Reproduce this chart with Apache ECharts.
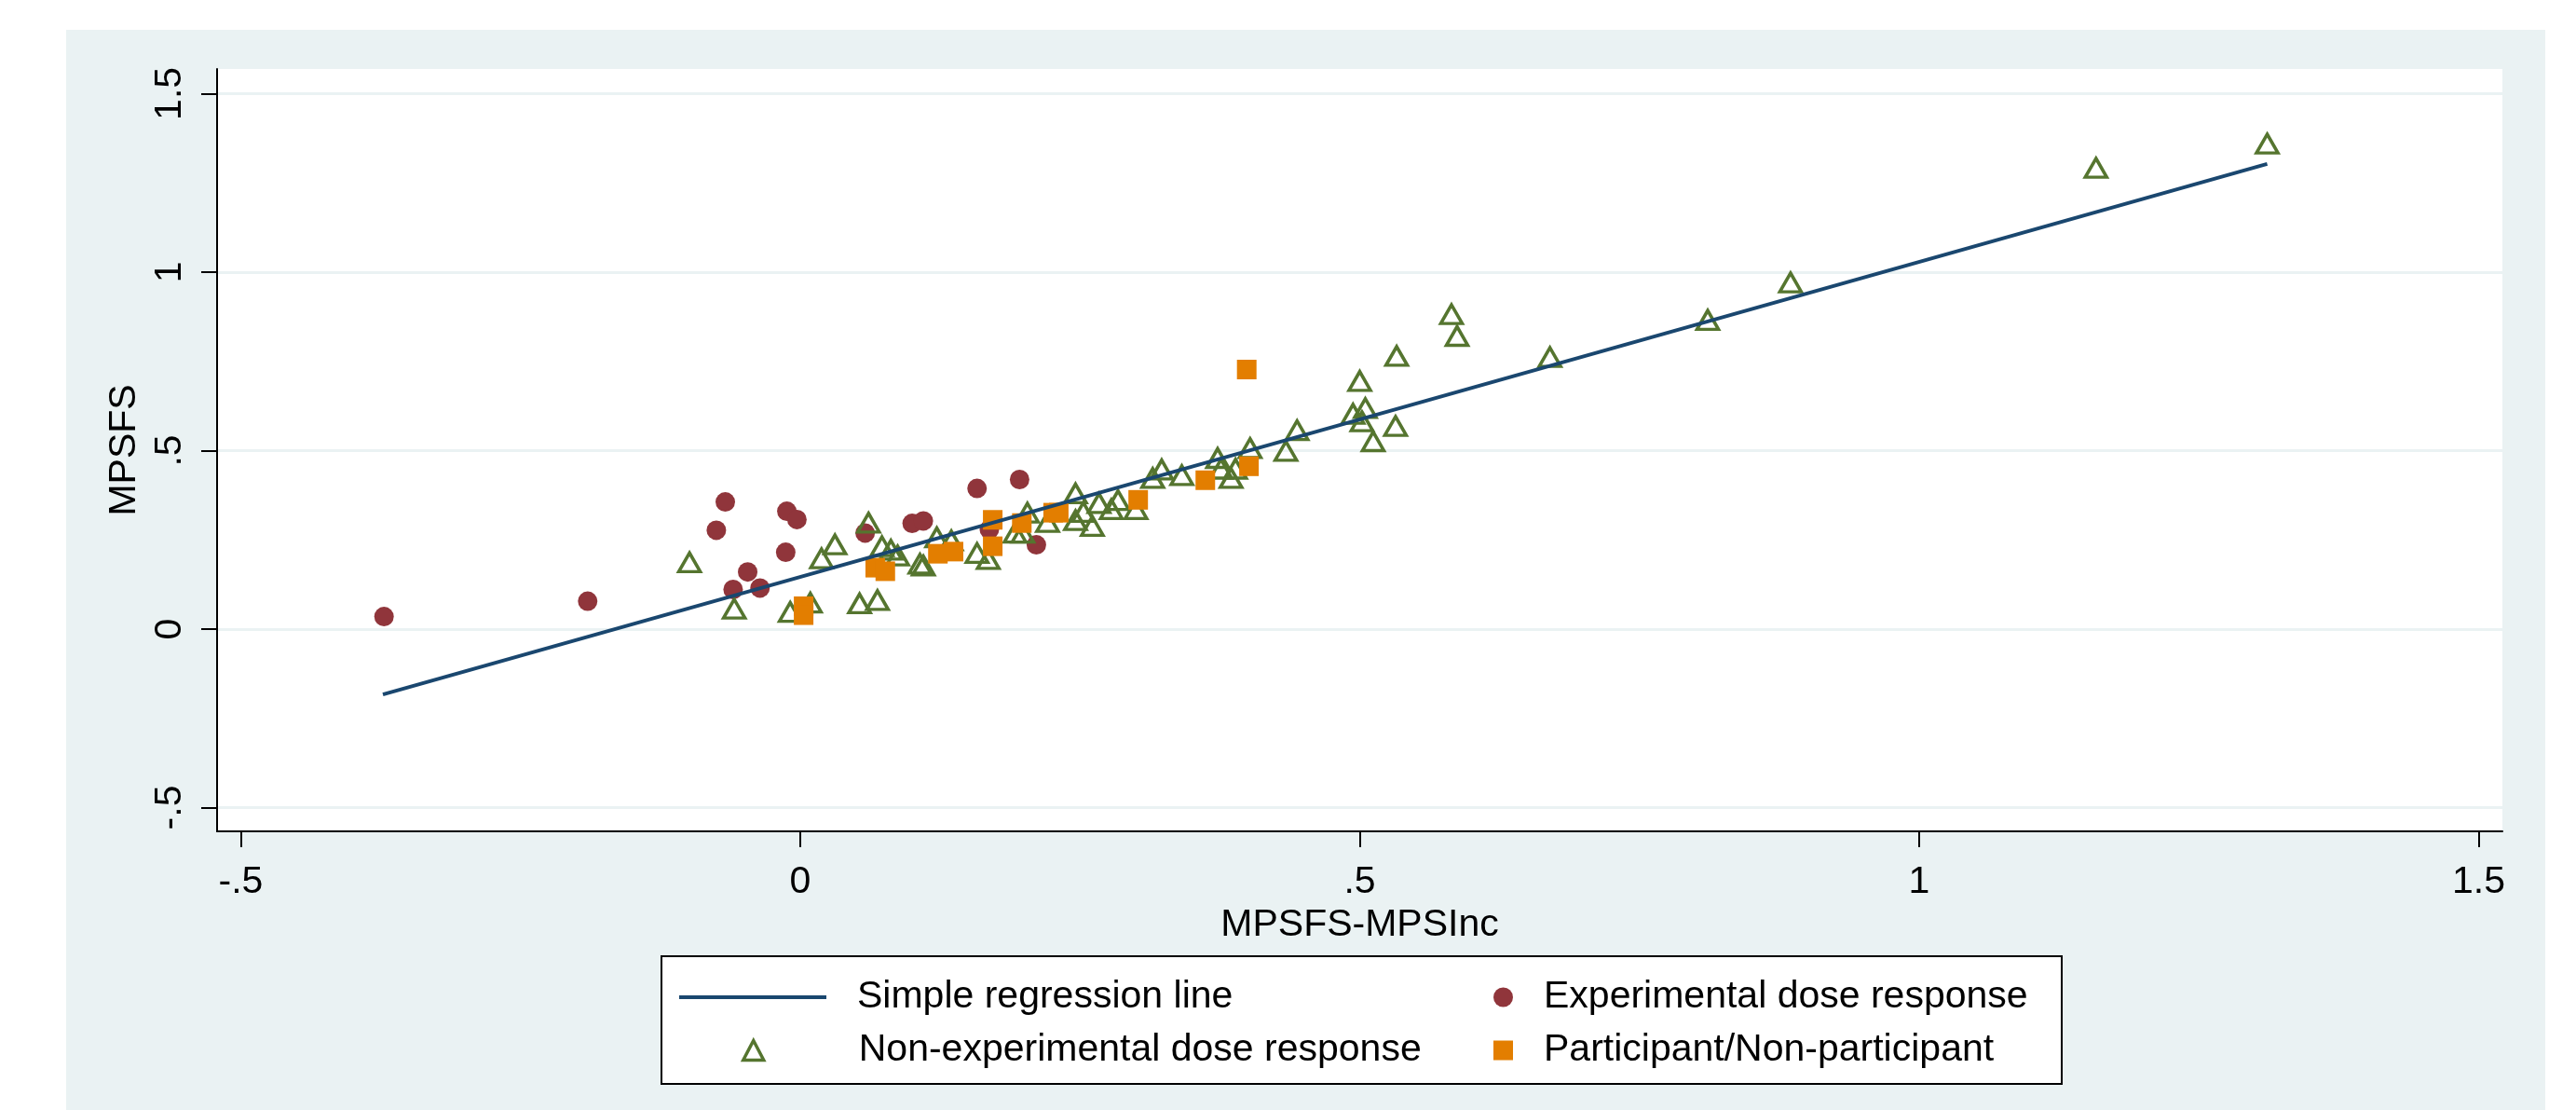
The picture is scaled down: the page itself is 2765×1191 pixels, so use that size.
<!DOCTYPE html>
<html>
<head>
<meta charset="utf-8">
<title>MPSFS vs MPSFS-MPSInc</title>
<script src="https://cdn.jsdelivr.net/npm/echarts@6.0.0/dist/echarts.min.js"></script>
<style>
  html, body { margin: 0; padding: 0; background: #ffffff; }
  #main { width: 2765px; height: 1191px; }
</style>
</head>
<body>
<div id="main"></div>
<script>
// axis ticks and their Stata-style labels
var xTicks = [-0.5, 0, 0.5, 1, 1.5];
var xTickLabels = ['-.5', '0', '.5', '1', '1.5'];
var yTicks = [-0.5, 0, 0.5, 1, 1.5];
var yTickLabels = ['-.5', '0', '.5', '1', '1.5'];

// simple regression line (two end points)
var regressionLine = [[-0.373, -0.183], [1.311, 1.303]];

// experimental dose response (red circles)
var experimental = [
    [-0.372, 0.035], [-0.190, 0.078], [-0.067, 0.356], [-0.075, 0.277],
    [-0.012, 0.330], [-0.003, 0.307], [-0.013, 0.215], [-0.047, 0.160],
    [-0.060, 0.111], [-0.036, 0.115], [0.058, 0.269], [0.100, 0.296],
    [0.110, 0.303], [0.158, 0.394], [0.196, 0.419], [0.211, 0.236],
    [0.169, 0.279]
];

// non-experimental dose response (green triangles)
var nonExperimental = [
    [-0.099, 0.187], [-0.059, 0.057], [-0.009, 0.048], [0.009, 0.074],
    [0.019, 0.198], [0.031, 0.237], [0.061, 0.298], [0.053, 0.072],
    [0.069, 0.081], [0.073, 0.232], [0.081, 0.222], [0.087, 0.206],
    [0.107, 0.183], [0.110, 0.178], [0.122, 0.257], [0.135, 0.248],
    [0.158, 0.213], [0.168, 0.196], [0.203, 0.326], [0.192, 0.270],
    [0.199, 0.270], [0.221, 0.300],
    [0.246, 0.380], [0.246, 0.305], [0.253, 0.328], [0.261, 0.289],
    [0.267, 0.353], [0.278, 0.336], [0.284, 0.361], [0.300, 0.336],
    [0.315, 0.423], [0.323, 0.447], [0.341, 0.431], [0.373, 0.479],
    [0.376, 0.449], [0.385, 0.423], [0.389, 0.449], [0.402, 0.507],
    [0.434, 0.499], [0.444, 0.557], [0.500, 0.695], [0.494, 0.603],
    [0.505, 0.619], [0.502, 0.582], [0.512, 0.526], [0.532, 0.569],
    [0.533, 0.765],
    [0.582, 0.882], [0.587, 0.821], [0.670, 0.762], [0.811, 0.866],
    [0.885, 0.971], [1.158, 1.292], [1.311, 1.360]
];

// participant / non-participant (orange squares)
var participant = [
    [0.003, 0.064], [0.003, 0.039], [0.067, 0.172], [0.076, 0.162],
    [0.123, 0.211], [0.137, 0.217], [0.172, 0.306], [0.172, 0.232],
    [0.198, 0.297], [0.226, 0.326], [0.231, 0.326], [0.302, 0.362],
    [0.362, 0.417], [0.401, 0.456], [0.399, 0.727]
];

function tickLabel(ticks, labels) {
    return function (v) {
        var best = 0;
        for (var i = 1; i < ticks.length; i++) {
            if (Math.abs(ticks[i] - v) < Math.abs(ticks[best] - v)) best = i;
        }
        return labels[best];
    };
}

var font = '"Liberation Sans", Arial, sans-serif';
var bg = '#EAF2F3';
var legendText = { fontSize: 41, fontFamily: font, color: '#000', lineHeight: 44 };

var myChart = echarts.init(document.getElementById('main'), null, {renderer: 'canvas'});

var option = {
    animation: false,
    backgroundColor: '#ffffff',
    textStyle: { fontFamily: font },
    graphic: [
        {   // light outer background
            type: 'rect', z: -10,
            shape: { x: 71, y: 32, width: 2661, height: 1159 },
            style: { fill: bg }
        },
        {   // legend box
            type: 'rect', z: 1,
            shape: { x: 710, y: 1026, width: 1503, height: 137 },
            style: { fill: '#ffffff', stroke: '#000000', lineWidth: 2 }
        }
    ],
    grid: {
        left: 233, top: 74, width: 2453, height: 818,
        show: true, backgroundColor: '#ffffff', borderWidth: 0
    },
    legend: [
        {   // regression line key
            data: [{ name: 'Simple regression line', icon: 'rect' }],
            left: 724, top: 1043,
            itemWidth: 158, itemHeight: 4,
            textStyle: Object.assign({ padding: [0, 0, 0, 28] }, legendText)
        },
        {   // triangle key, symbol centred under the line key
            data: [{
                name: 'Non-experimental dose response', icon: 'triangle',
                itemStyle: { color: 'rgba(255,255,255,0)', borderColor: '#55752F', borderWidth: 3.5 }
            }],
            left: 791, top: 1100,
            itemWidth: 22, itemHeight: 21,
            textStyle: Object.assign({ padding: [0, 0, 0, 97] }, legendText)
        },
        {   // right column
            data: [
                { name: 'Experimental dose response', icon: 'circle' },
                { name: 'Participant/Non-participant', icon: 'rect' }
            ],
            orient: 'vertical',
            left: 1598, top: 1043,
            itemWidth: 21, itemHeight: 21, itemGap: 13,
            textStyle: Object.assign({ padding: [0, 0, 0, 28] }, legendText)
        }
    ],
    xAxis: {
        type: 'value',
        min: -0.5212, max: 1.5212,
        name: 'MPSFS-MPSInc',
        nameLocation: 'middle',
        nameGap: 72,
        nameTextStyle: { fontSize: 41, fontFamily: font, color: '#000' },
        axisLine: { show: true, onZero: false, lineStyle: { color: '#000', width: 2 } },
        axisTick: { show: true, customValues: xTicks, length: 17, lineStyle: { color: '#000', width: 2 } },
        axisLabel: {
            customValues: xTicks, formatter: tickLabel(xTicks, xTickLabels),
            fontSize: 41, fontFamily: font, color: '#000', margin: 34
        },
        splitLine: { show: false }
    },
    yAxis: {
        type: 'value',
        min: -0.5666, max: 1.569,
        name: 'MPSFS',
        nameLocation: 'middle',
        nameGap: 76,
        nameRotate: 90,
        nameTextStyle: { fontSize: 41, fontFamily: font, color: '#000' },
        axisLine: { show: true, onZero: false, lineStyle: { color: '#000', width: 2 } },
        axisTick: { show: true, customValues: yTicks, length: 17, lineStyle: { color: '#000', width: 2 } },
        axisLabel: {
            customValues: yTicks, formatter: tickLabel(yTicks, yTickLabels),
            rotate: 90, fontSize: 41, fontFamily: font, color: '#000', margin: 30
        },
        splitLine: { show: true, lineStyle: { color: bg, width: 3 } }
    },
    series: [
        {
            name: 'Simple regression line',
            type: 'line',
            data: regressionLine,
            symbol: 'none',
            lineStyle: { color: '#1A476F', width: 4 },
            itemStyle: { color: '#1A476F' }
        },
        {
            name: 'Experimental dose response',
            type: 'scatter',
            data: experimental,
            symbol: 'circle',
            symbolSize: 21,
            itemStyle: { color: '#90353B', opacity: 1 }
        },
        {
            name: 'Non-experimental dose response',
            type: 'scatter',
            data: nonExperimental,
            symbol: 'triangle',
            symbolSize: [23, 20],
            itemStyle: { color: 'rgba(255,255,255,0)', borderColor: '#55752F', borderWidth: 3.5, opacity: 1 }
        },
        {
            name: 'Participant/Non-participant',
            type: 'scatter',
            data: participant,
            symbol: 'rect',
            symbolSize: 21,
            itemStyle: { color: '#E37E00', opacity: 1 }
        }
    ]
};

myChart.setOption(option);
</script>
</body>
</html>
